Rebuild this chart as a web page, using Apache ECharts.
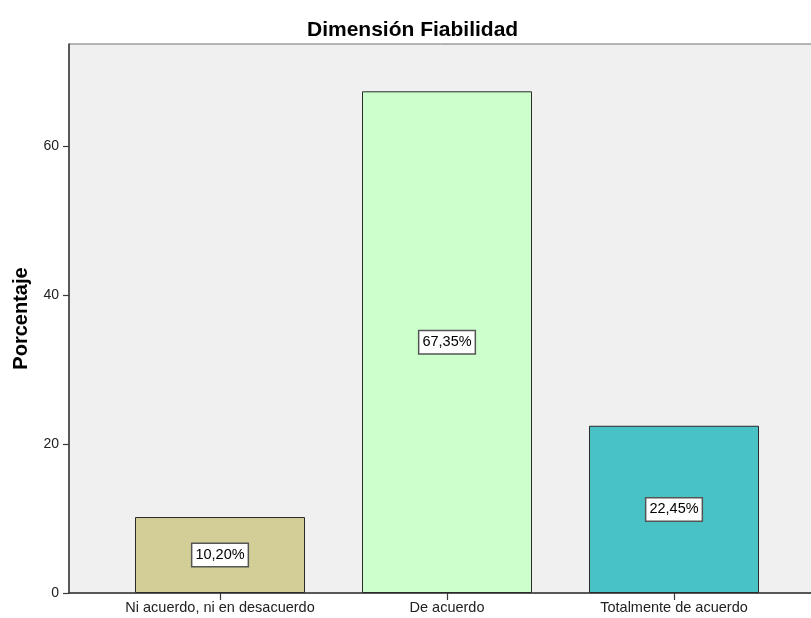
<!DOCTYPE html>
<html><head><meta charset="utf-8">
<script src="https://cdn.jsdelivr.net/npm/echarts@6/dist/echarts.min.js"></script>
<style>html,body{margin:0;padding:0;background:#fff}#c{width:811px;height:618px}</style>
</head><body><div id="c"></div>
<script>
const categories = ['Ni acuerdo, ni en desacuerdo', 'De acuerdo', 'Totalmente de acuerdo'];
const percentages = [10.20, 67.35, 22.45];
const yTicks = [0, 20, 40, 60];
const barColors = ['#d3ce97', '#ccffcc', '#48c2c5'];
const fmt = v => v.toFixed(2).replace('.', ',') + '%';
const FONT = '"Liberation Sans", Arial, sans-serif';
const YMAX = 73.7;

const chart = echarts.init(document.getElementById('c'));
chart.setOption({
  animation: false,
  title: {
    text: 'Dimensión Fiabilidad', left: 302, top: 15,
    textStyle: { fontFamily: FONT, fontSize: 21, fontWeight: 'bold', color: '#000' }
  },
  grid: [
    { left: 69, right: -14, top: 44, bottom: 25, show: true, backgroundColor: '#f0f0f0', borderColor: '#707070', borderWidth: 1, outerBoundsMode: 'none', containLabel: false },
    { left: 106.5, right: 23.5, top: 44, bottom: 25, outerBoundsMode: 'none', containLabel: false }
  ],
  xAxis: [
    { gridIndex: 0, type: 'value', min: 0, max: 1, axisLine: { show: true, onZero: false, lineStyle: { color: '#3a3a3a', width: 1.5 } },
      axisTick: { show: false }, axisLabel: { show: false }, splitLine: { show: false } },
    { gridIndex: 1, type: 'category', data: categories,
      axisLine: { show: false }, axisTick: { show: true, alignWithLabel: true, length: 7, lineStyle: { color: '#3a3a3a', width: 1.2 } },
      axisLabel: { interval: 0, hideOverlap: false, color: '#222', fontFamily: FONT, fontSize: 14.5, margin: 7 } }
  ],
  yAxis: [
    { gridIndex: 0, type: 'value', min: 0, max: YMAX,
      name: 'Porcentaje', nameLocation: 'middle', nameGap: 38, nameRotate: 90,
      nameTextStyle: { fontFamily: FONT, fontSize: 20, fontWeight: 'bold', color: '#000' },
      axisLine: { show: true, lineStyle: { color: '#3a3a3a', width: 1.5 } },
      axisTick: { show: true, length: 6, customValues: yTicks, lineStyle: { color: '#3a3a3a', width: 1.2 } },
      axisLabel: { customValues: yTicks, color: '#222', fontFamily: FONT, fontSize: 14, margin: 10 },
      splitLine: { show: false } },
    { gridIndex: 1, type: 'value', min: 0, max: YMAX, show: false, splitLine: { show: false } }
  ],
  series: [{
    type: 'bar', xAxisIndex: 1, yAxisIndex: 1, barWidth: 170,
    data: percentages.map((v, i) => ({ value: v, itemStyle: { color: barColors[i] } })),
    itemStyle: { borderColor: '#2a2a2a', borderWidth: 1 },
    label: {
      show: true, position: 'inside', formatter: p => fmt(p.value),
      fontFamily: FONT, fontSize: 14.5, color: '#000',
      backgroundColor: '#fff', borderColor: '#555', borderWidth: 1.5, padding: [4, 3, 3, 3]
    }
  }]
});
</script></body></html>
